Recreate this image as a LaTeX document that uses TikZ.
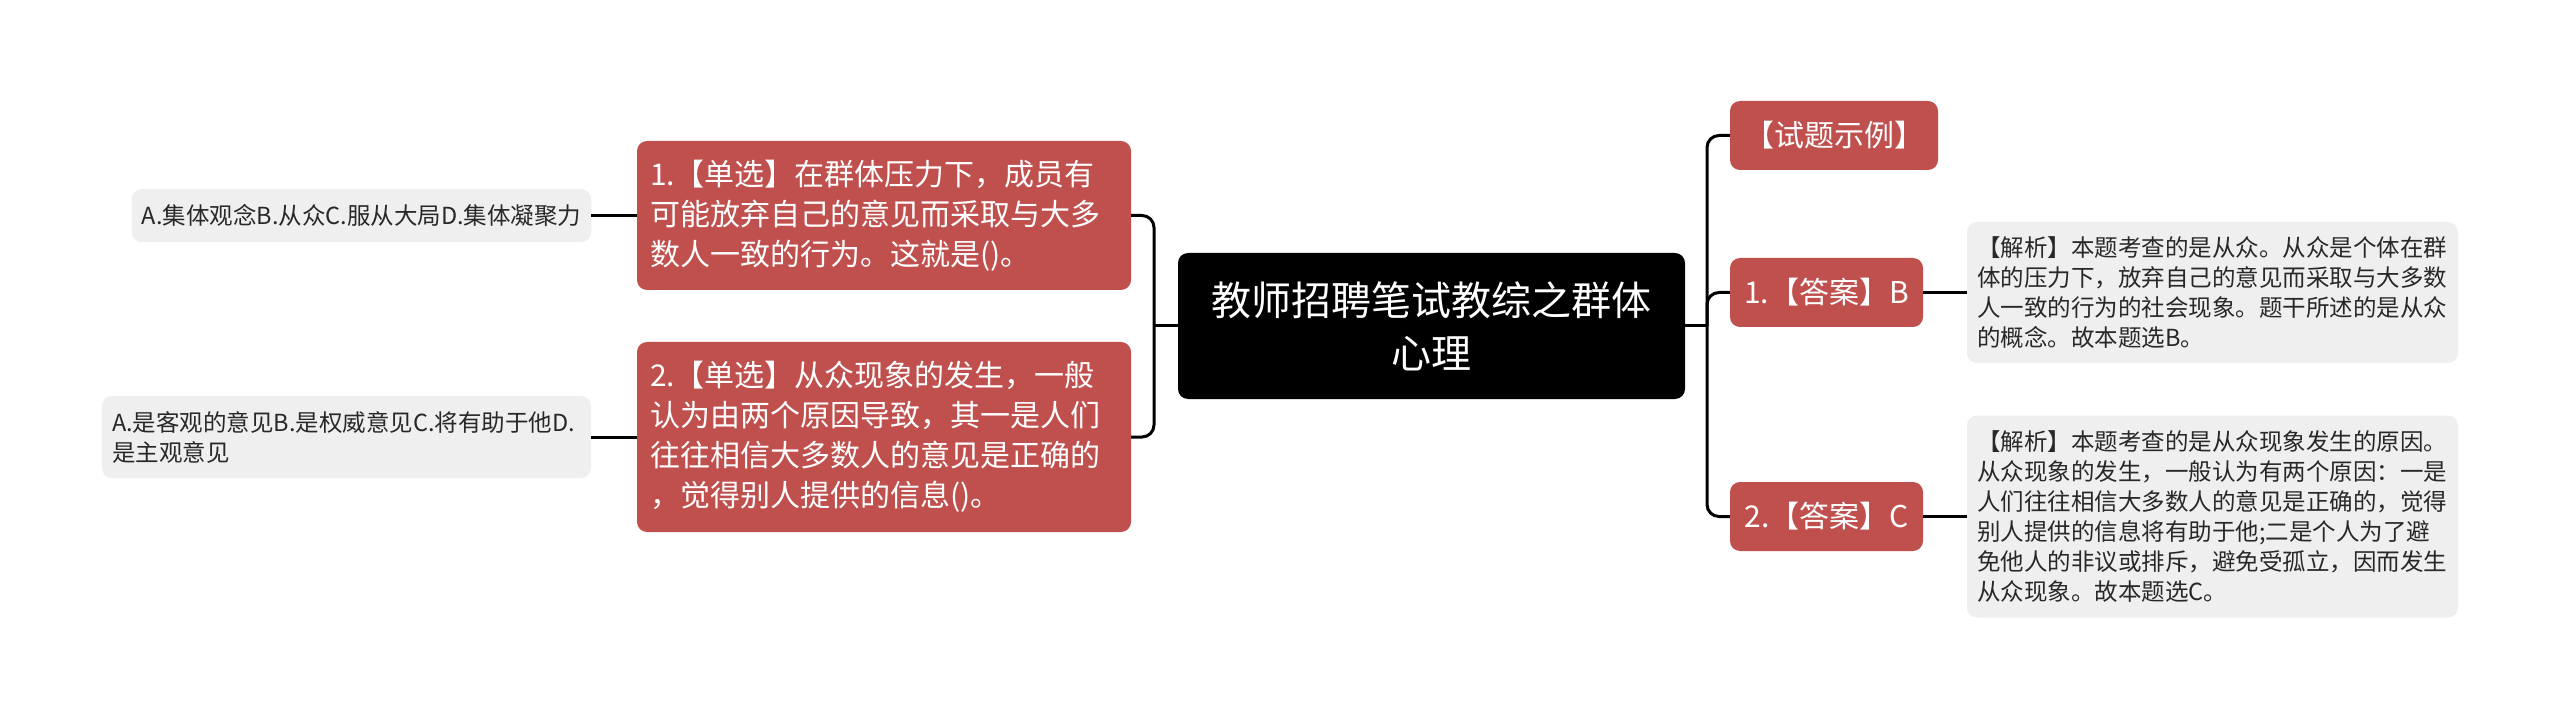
\documentclass[tikz,border=0pt]{standalone}
\usepackage{fontspec}
\setmainfont{Noto Sans CJK SC}
\usepackage{xcolor}
\usepackage{tikz}
\usetikzlibrary{positioning}
\definecolor{rosso}{RGB}{192,80,77}
\definecolor{grigio}{RGB}{239,239,239}
\definecolor{testo}{RGB}{40,40,40}

\begin{document}
\begin{tikzpicture}[x=1pt, y=-1pt,
    every node/.style={rectangle, rounded corners=10pt, inner ysep=0pt},
    centro/.style={fill=black, text=white, inner xsep=20pt, text width=467pt, align=center, minimum height=146pt, font=\fontsize{40}{53}\selectfont},
    ramo/.style={fill=rosso, text=white, inner xsep=13pt, align=left, font=\fontsize{30}{40}\selectfont},
    foglia/.style={fill=grigio, text=testo, inner xsep=10pt, align=left, font=\fontsize{23.5}{30}\selectfont},
    linea/.style={line width=3pt}]
        \fill[white] (0,0) rectangle (2560,719);
        \useasboundingbox (0,0) rectangle (2560,719);

        % Nodo centrale
        \node[centro] (C) at (1431.5,326) {教师招聘笔试教综之群体\\心理};

        % Ramo sinistro
        \node[ramo, text width=468pt, minimum height=149pt] (L1) at (884,215.5) {1.【单选】在群体压力下，成员有\\可能放弃自己的意见而采取与大多\\数人一致的行为。这就是()。};
        \node[ramo, text width=468pt, minimum height=190pt] (L2) at (884,437) {2.【单选】从众现象的发生，一般\\认为由两个原因导致，其一是人们\\往往相信大多数人的意见是正确的\\，觉得别人提供的信息()。};
        \node[foglia, minimum width=459pt, minimum height=53pt] (LL1) at (361.5,215.5) {A.集体观念B.从众C.服从大局D.集体凝聚力};
        \node[foglia, text width=469pt, minimum height=82pt] (LL2) at (346.5,437) {A.是客观的意见B.是权威意见C.将有助于他D.\\是主观意见};

        % Ramo destro
        \node[ramo, align=center, minimum width=208pt, minimum height=69pt] (R0) at (1834,135.5) {【试题示例】};
        \node[ramo, align=center, minimum width=193pt, minimum height=69pt] (R1) at (1826.5,292.5) {1.【答案】B};
        \node[ramo, align=center, minimum width=193pt, minimum height=69pt] (R2) at (1826.5,516.5) {2.【答案】C};
        \node[foglia, text width=471pt, minimum height=141pt] (RL1) at (2212.5,292.5) {【解析】本题考查的是从众。从众是个体在群\\体的压力下，放弃自己的意见而采取与大多数\\人一致的行为的社会现象。题干所述的是从众\\的概念。故本题选B。};
        \node[foglia, text width=471pt, minimum height=202pt] (RL2) at (2212.5,516.5) {【解析】本题考查的是从众现象发生的原因。\\从众现象的发生，一般认为有两个原因：一是\\人们往往相信大多数人的意见是正确的，觉得\\别人提供的信息将有助于他;二是个人为了避\\免他人的非议或排斥，避免受孤立，因而发生\\从众现象。故本题选C。};

        % Collegamenti
        \coordinate (gs) at (1154,326);
        \coordinate (gd) at (1707,326);
        \draw[linea] (C.west) -- (gs);
        \draw[linea, rounded corners=12pt] (L1.east) -| (gs) |- (L2.east);
        \draw[linea] (C.east) -- (gd);
        \draw[linea, rounded corners=12pt] (R0.west) -| (gd) |- (R2.west);
        \draw[linea, rounded corners=12pt] (gd) |- (R1.west);
        \draw[linea] (LL1.east) -- (L1.west);
        \draw[linea] (LL2.east) -- (L2.west);
        \draw[linea] (R1.east) -- (RL1.west);
        \draw[linea] (R2.east) -- (RL2.west);
    \end{tikzpicture}
\end{document}
